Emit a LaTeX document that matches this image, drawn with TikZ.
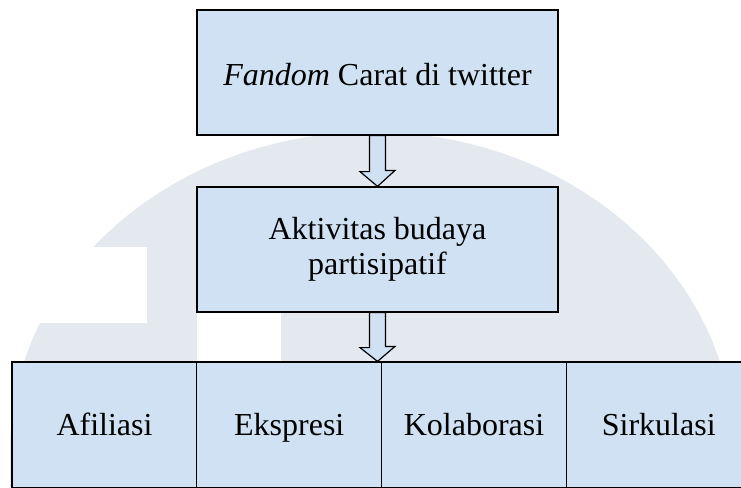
\documentclass[tikz,border=0pt]{standalone}
\usepackage{fontspec}
\setmainfont{Liberation Serif}
\definecolor{boxfill}{RGB}{207,225,242}
\definecolor{wmgrey}{RGB}{228,233,240}
\tikzset{
  box/.style={draw=black, fill=boxfill, line width=1.2pt, inner sep=0pt,
    align=center, font=\fontsize{32}{35}\selectfont},
  bigbox/.style={box, minimum width=361pt, minimum height=125pt},
  cellbox/.style={box, minimum width=185pt, minimum height=126pt,
    text height=23pt, text depth=3pt},
  blockarrow/.style={draw=black, fill=boxfill, line width=1.2pt, line join=miter}
}
\begin{document}
\begin{tikzpicture}[x=1pt,y=-1pt]
\useasboundingbox (0,0) rectangle (741,487);
\clip (0,0) rectangle (741,487);
% faint watermark
\fill[wmgrey] (372,450) ellipse [x radius=362, y radius=318];
\fill[wmgrey] (10,450) rectangle (734,487);
\fill[white] (0,247) rectangle (147,323);
\fill[white] (197,300) rectangle (281,370);
% boxes
\node[bigbox, text height=28pt, text depth=3pt] (top) at (377.5,72.5) {\textit{Fandom} Carat di twitter};
\node[bigbox] (mid) at (377.5,249.5) {Aktivitas budaya\\partisipatif};
\node[cellbox] (afi) at (104.5,425) {Afiliasi};
\node[cellbox] (eks) at (289.25,425) {Ekspresi};
\node[cellbox] (kol) at (474,425) {Kolaborasi};
\node[cellbox] (sir) at (658.75,425) {Sirkulasi};
% block arrows
\coordinate (tip1) at (mid.north);
\coordinate (tip2) at (mid.south |- eks.north);
\draw[blockarrow] ([xshift=-8pt]top.south) -- ++(0,36) -- ++(-9.5,0) -- (tip1)
  -- ++(17.5,-16) -- ++(-9.5,0) -- ([xshift=8pt]top.south) -- cycle;
\draw[blockarrow] ([xshift=-8pt]mid.south) -- ++(0,35) -- ++(-9.5,0) -- (tip2)
  -- ++(17.5,-15) -- ++(-9.5,0) -- ([xshift=8pt]mid.south) -- cycle;
\end{tikzpicture}
\end{document}
